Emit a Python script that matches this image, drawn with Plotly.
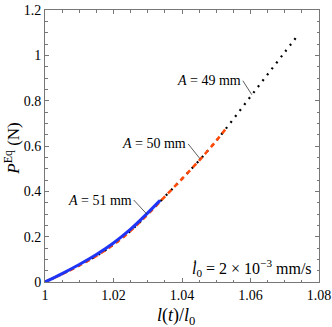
import plotly.graph_objects as go

# readings from the picture: stretch l(t)/l0 against P^Eq (N)
x_51 = [1.000, 1.005, 1.010, 1.015, 1.020, 1.025, 1.030, 1.0336]
p_51 = [0.000, 0.037, 0.077, 0.121, 0.172, 0.233, 0.305, 0.360]

x_50 = [1.000, 1.005, 1.010, 1.015, 1.020, 1.025, 1.030, 1.035, 1.040, 1.045, 1.050, 1.0533]
p_50 = [0.000, 0.035, 0.073, 0.115, 0.165, 0.226, 0.299, 0.377, 0.455, 0.536, 0.623, 0.686]

x_49 = [1.000, 1.005, 1.010, 1.015, 1.020, 1.025, 1.030, 1.035, 1.040, 1.045, 1.050,
        1.055, 1.060, 1.065, 1.070, 1.0738]
p_49 = [0.000, 0.035, 0.073, 0.115, 0.165, 0.226, 0.299, 0.377, 0.455, 0.536, 0.623,
        0.719, 0.818, 0.916, 1.014, 1.088]

labels = ["<i>A</i> = 49 mm", "<i>A</i> = 50 mm", "<i>A</i> = 51 mm"]
label_tips = [(1.0604, 0.826), (1.0453, 0.543), (1.0297, 0.300)]

x_ticks = [1, 1.02, 1.04, 1.06, 1.08]
y_ticks = [0, 0.2, 0.4, 0.6, 0.8, 1, 1.2]

serif = "Times New Roman"

fig = go.Figure()
fig.add_trace(go.Scatter(x=x_49, y=p_49, mode="lines", line_shape="spline",
                         line=dict(color="black", width=2.2, dash="2px,5.5px")))
fig.add_trace(go.Scatter(x=x_50, y=p_50, mode="lines", line_shape="spline",
                         line=dict(color="#ff4a0a", width=2.6, dash="5px,4px")))
fig.add_trace(go.Scatter(x=x_51, y=p_51, mode="lines", line_shape="spline",
                         line=dict(color="#1f35f5", width=3)))

offsets = [(-9, -14), (-12, -15), (-13, -14)]
for txt, (tx, ty), (ax, ay) in zip(labels, label_tips, offsets):
    fig.add_annotation(x=tx, y=ty, text=txt, showarrow=True, arrowhead=0,
                       arrowwidth=0.8, arrowcolor="#333", ax=ax, ay=ay,
                       xanchor="right", yanchor="middle",
                       font=dict(family=serif, size=14, color="black"))

fig.add_annotation(x=1.08, y=0.0, xref="x", yref="y", xanchor="right", yanchor="bottom",
                   xshift=-5, yshift=1, showarrow=False,
                   text="<i>l\u0307</i><sub>0</sub> = 2 \u00d7 10<sup>\u22123</sup> mm/s",
                   font=dict(family=serif, size=16, color="black"))

# axis titles as paper annotations so they sit where the reference puts them
fig.add_annotation(x=0.478, y=0, xref="paper", yref="paper", yshift=-34,
                   xanchor="center", yanchor="middle", showarrow=False,
                   text="<i>l</i>(<i>t</i>)/<i>l</i><sub>0</sub>",
                   font=dict(family=serif, size=18, color="black"))
fig.add_annotation(x=0, y=0.49, xref="paper", yref="paper", xshift=-33,
                   xanchor="center", yanchor="middle", showarrow=False, textangle=-90,
                   text="<i>P</i><sup>Eq</sup> (N)",
                   font=dict(family=serif, size=17, color="black"))

axis_common = dict(showgrid=False, zeroline=False, showline=True, linecolor="#777",
                   linewidth=1, mirror="allticks", ticks="inside", ticklen=4,
                   tickcolor="#777", automargin=False, tickmode="array",
                   tickfont=dict(family=serif, size=14, color="black"))

fig.update_xaxes(range=[1, 1.08], tickvals=x_ticks, ticktext=[f"{v:g}" for v in x_ticks],
                 minor=dict(dtick=0.005, tick0=1, ticks="inside", ticklen=2.5, tickcolor="#777"),
                 **axis_common)
fig.update_yaxes(range=[0, 1.2], tickvals=y_ticks, ticktext=[f"{v:g}" for v in y_ticks],
                 minor=dict(dtick=0.05, tick0=0, ticks="inside", ticklen=2.5, tickcolor="#777"),
                 **axis_common)

fig.update_layout(width=332, height=327, showlegend=False,
                  margin=dict(l=45, r=13, t=10, b=45),
                  font=dict(family=serif),
                  plot_bgcolor="white", paper_bgcolor="white")

# drop the default 8px body margin so the figure fills the window
fig.write_html("out.html", config=dict(displayModeBar=False),
               post_script="document.body.style.margin='0';")
